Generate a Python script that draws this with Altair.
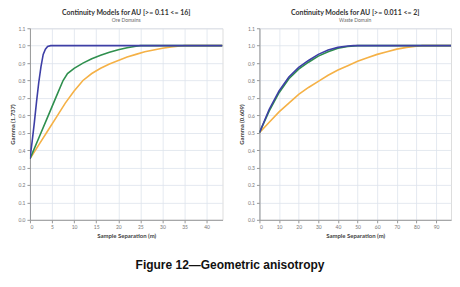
import altair as alt
import pandas as pd

# ---- Left panel: Ore Domains ----
left_blue_x = [0, 0.5, 1.0, 1.5, 2.0, 2.5, 3.0, 3.5, 4.0, 4.7, 43.6]
left_blue_y = [0.35, 0.45, 0.56, 0.68, 0.79, 0.88, 0.95, 0.98, 0.995, 1.0, 1.0]

left_green_x = [0, 2, 4, 6, 7.5, 8.5, 10, 12, 14, 16, 18, 20, 22, 24, 25, 43.6]
left_green_y = [0.35, 0.47, 0.59, 0.71, 0.80, 0.84, 0.87, 0.9, 0.925, 0.945, 0.962, 0.977, 0.988, 0.997, 1.0, 1.0]

left_orange_x = [0, 2, 4, 6, 8, 10, 12, 14, 16, 18, 20, 22, 24, 26, 28, 30, 32, 34, 35, 43.6]
left_orange_y = [0.35, 0.43, 0.51, 0.59, 0.67, 0.74, 0.80, 0.84, 0.87, 0.895, 0.915, 0.935, 0.95,
                 0.965, 0.975, 0.985, 0.993, 0.998, 1.0, 1.0]

# ---- Right panel: Waste Domain ----
right_blue_x = [0, 5, 10, 15, 20, 25, 30, 35, 40, 45, 48, 97.6]
right_blue_y = [0.5, 0.635, 0.74, 0.82, 0.875, 0.915, 0.95, 0.975, 0.99, 0.998, 1.0, 1.0]

right_green_x = [0, 5, 10, 15, 20, 25, 30, 35, 40, 45, 50, 97.6]
right_green_y = [0.5, 0.625, 0.73, 0.81, 0.865, 0.905, 0.94, 0.965, 0.985, 0.995, 1.0, 1.0]

right_orange_x = [0, 5, 10, 15, 20, 25, 30, 35, 40, 45, 50, 55, 60, 65, 70, 75, 80, 83, 97.6]
right_orange_y = [0.5, 0.56, 0.62, 0.67, 0.72, 0.76, 0.795, 0.83, 0.86, 0.885, 0.91, 0.93, 0.95,
                  0.965, 0.98, 0.99, 0.997, 1.0, 1.0]

left_title = "Continuity Models for AU [>= 0.11 <= 16]"
left_subtitle = "Ore Domains"
left_ytitle = "Gamma (1.737)"
right_title = "Continuity Models for AU [>= 0.011 <= 2]"
right_subtitle = "Waste Domain"
right_ytitle = "Gamma (0.609)"
xtitle = "Sample Separation (m)"
caption = "Figure 12\u2014Geometric anisotropy"

left_xticks = [0, 5, 10, 15, 20, 25, 30, 35, 40]
right_xticks = [0, 10, 20, 30, 40, 50, 60, 70, 80, 90]
yticks = [0, 0.1, 0.2, 0.3, 0.4, 0.5, 0.6, 0.7, 0.8, 0.9, 1.0, 1.1]

COLORS = {"orange": "#f5b146", "green": "#2f8f4e", "blue": "#3e3fa6"}
FONT = "Lato"

AXIS_STYLE = dict(
    labelFontSize=5, labelColor="#777777", labelFont=FONT,
    titleFontSize=6, titleFont=FONT, titleColor="#444444", titleFontWeight="bold",
    gridColor="#dde3ec", gridWidth=0.8, domainColor="#999999", tickColor="#999999",
    tickSize=3, labelPadding=2, titlePadding=3,
)


def series_df(xs, ys):
    return pd.DataFrame({"x": xs, "y": ys})


def panel(series, xmax, xticks, title, subtitle, ytitle, w, h):
    layers = []
    for name, xs, ys in series:
        layers.append(
            alt.Chart(series_df(xs, ys)).mark_line(
                color=COLORS[name], strokeWidth=1.6, clip=True
            ).encode(
                x=alt.X("x:Q", scale=alt.Scale(domain=[0, xmax], nice=False, zero=True),
                        axis=alt.Axis(values=xticks, title=xtitle, format="d", **AXIS_STYLE)),
                y=alt.Y("y:Q", scale=alt.Scale(domain=[0, 1.1], nice=False),
                        axis=alt.Axis(values=yticks, title=ytitle, format=".1f", **AXIS_STYLE)),
            )
        )
    return alt.layer(*layers).properties(
        width=w, height=h,
        title=alt.TitleParams(title, subtitle=subtitle, fontSize=7, subtitleFontSize=5,
                              font=FONT, subtitleFont=FONT, fontWeight="bold",
                              color="#333333", subtitleColor="#666666",
                              subtitlePadding=2, offset=3, anchor="middle"),
    )


left = panel([("orange", left_orange_x, left_orange_y),
              ("green", left_green_x, left_green_y),
              ("blue", left_blue_x, left_blue_y)],
             43.6, left_xticks, left_title, left_subtitle, left_ytitle, 193, 192)

right = panel([("orange", right_orange_x, right_orange_y),
               ("green", right_green_x, right_green_y),
               ("blue", right_blue_x, right_blue_y)],
              97.6, right_xticks, right_title, right_subtitle, right_ytitle, 192, 192)

chart = alt.hconcat(left, right, spacing=14).properties(
    padding=0,
    title=alt.TitleParams(caption, orient="bottom", fontSize=12, font="Liberation Sans",
                          fontWeight="bold", color="#111111", offset=21, anchor="middle"),
).configure_view(stroke="#c8ccd4", strokeWidth=0.8).configure(background="white")

chart.save("out.html", embed_options={"renderer": "svg", "actions": False})
